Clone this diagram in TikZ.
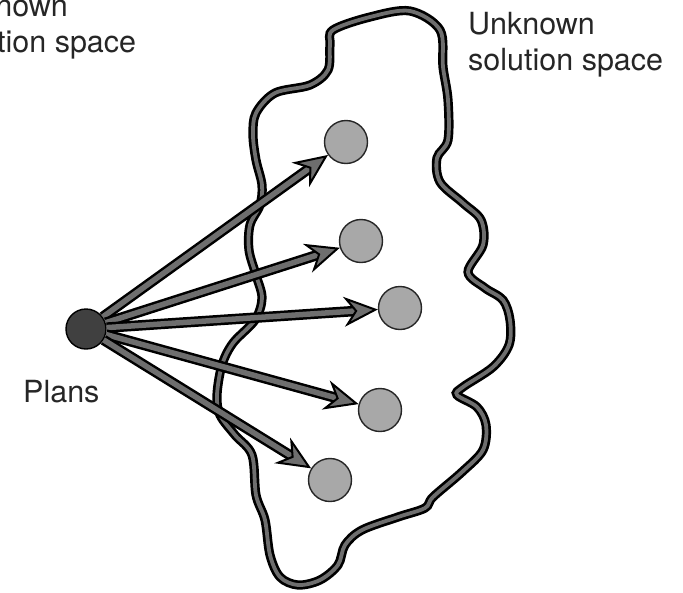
\documentclass[tikz,border=0pt]{standalone}
\usepackage{fontspec}
\setmainfont{TeX Gyre Heros}
\usepackage{tikz}
\usetikzlibrary{arrows.meta}
\definecolor{inkgray}{RGB}{110, 110, 110}
\definecolor{solgray}{RGB}{168, 168, 168}

\begin{document}
\begin{tikzpicture}[x=1pt, y=-1pt,
    label text/.style={inner sep=0pt, align=left, text=black!85, font=\fontsize{30.5}{36}\selectfont},
    solution/.style={circle, inner sep=0pt, minimum size=43pt, fill=solgray, draw=black!85, line width=1.4pt},
    planarrow/.style={draw=black, line width=2.5pt, double=inkgray, double distance=5.5pt,
        -{Stealth[length=34pt, width=30pt, inset=11pt, fill=inkgray, line width=2pt]}}]
\useasboundingbox (0,0) rectangle (683,592);
% outline of the unknown region
\draw[draw=black, line width=2.7pt, double=inkgray, double distance=3.8pt]
  plot[smooth cycle, tension=0.55] coordinates {
  (333,30) (370,17) (410,11) (440,30) (443,67) (448,100) (448,140) (437,158)
  (440,182) (463,203) (481,220) (483,245) (468,272) (485,288) (503,300)
  (510,320) (509,345) (493,367) (463,387) (457,395) (477,407) (486,425)
  (483,450) (462,472) (433,497) (425,508) (398,517) (362,530) (345,545)
  (338,565) (320,580) (298,585) (280,577) (270,555) (265,520) (256,495)
  (252,455) (235,435) (220,415) (217,395) (222,365) (233,343) (255,320)
  (262,298) (256,275) (249,250) (250,225) (260,205) (262,185) (256,160)
  (253,135) (256,113) (275,93) (310,85) (328,70) (330,45)};
% plans and the solutions they aim at
\node[circle, inner sep=0pt, minimum size=40pt, fill=black!75, draw=black, line width=1.4pt] (plan) at (86,329) {};
\node[solution] (sol1) at (346,142) {};
\node[solution] (sol2) at (361,241) {};
\node[solution] (sol3) at (400,308) {};
\node[solution] (sol4) at (380,410) {};
\node[solution] (sol5) at (330,480) {};
\foreach \i in {1,...,5}
  \draw[planarrow] (plan) -- (sol\i);
% labels
\node[label text, anchor=north west] (space) at (468,12) {Unknown\\solution space};
\node[label text, anchor=north west] (spacecut) at (-59,-6) {Unknown\\solution space};
\node[label text, anchor=north west] (plans) at (23,380) {Plans};
\end{tikzpicture}
\end{document}
